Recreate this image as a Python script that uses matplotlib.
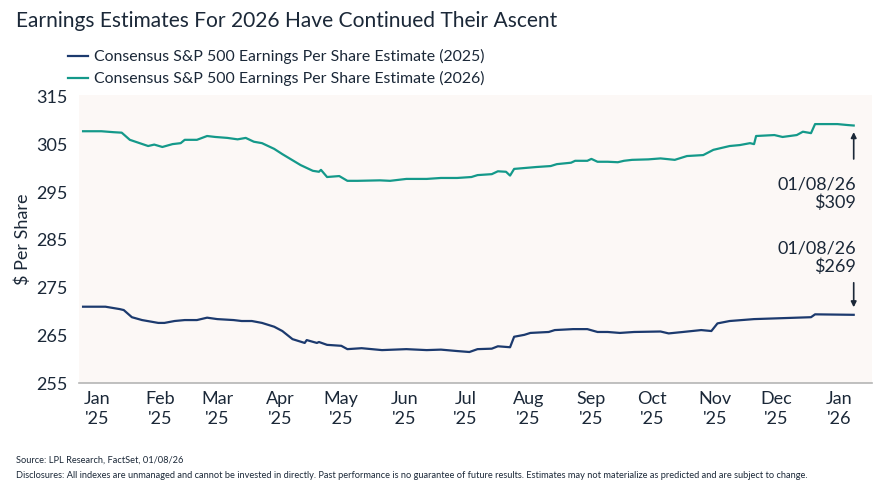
import matplotlib
matplotlib.use('Agg')
import matplotlib.pyplot as plt
import pandas as pd

plt.rcParams['font.family'] = ['Lato', 'DejaVu Sans']

# Consensus EPS estimate for 2026 (teal line)
dates_2026 = ['2024-12-25', '2025-01-03', '2025-01-09', '2025-01-13', '2025-01-17', '2025-01-26',
              '2025-01-29', '2025-02-02', '2025-02-07', '2025-02-11', '2025-02-13', '2025-02-19',
              '2025-02-24', '2025-02-28', '2025-03-06', '2025-03-11', '2025-03-15', '2025-03-19',
              '2025-03-23', '2025-03-29', '2025-04-02', '2025-04-11', '2025-04-17', '2025-04-20',
              '2025-04-21', '2025-04-24', '2025-04-30', '2025-05-04', '2025-05-09', '2025-05-20',
              '2025-05-25', '2025-06-02', '2025-06-12', '2025-06-19', '2025-06-27', '2025-07-04',
              '2025-07-07', '2025-07-14', '2025-07-17', '2025-07-21', '2025-07-23', '2025-07-25',
              '2025-08-05', '2025-08-12', '2025-08-15', '2025-08-22', '2025-08-24', '2025-08-30',
              '2025-09-01', '2025-09-04', '2025-09-09', '2025-09-14', '2025-09-17', '2025-09-21',
              '2025-09-29', '2025-10-05', '2025-10-12', '2025-10-18', '2025-10-26', '2025-10-31',
              '2025-11-08', '2025-11-13', '2025-11-18', '2025-11-20', '2025-11-21', '2025-11-30',
              '2025-12-04', '2025-12-11', '2025-12-14', '2025-12-18', '2025-12-20', '2025-12-31',
              '2026-01-05', '2026-01-08']
eps_2026 = [307.8, 307.8, 307.6, 307.5, 306.0, 304.7,
            305.0, 304.5, 305.1, 305.3, 306.0, 306.0,
            306.8, 306.6, 306.4, 306.1, 306.4, 305.6,
            305.3, 304.1, 303.0, 300.7, 299.5, 299.3,
            299.7, 298.2, 298.4, 297.4, 297.4, 297.5,
            297.4, 297.8, 297.8, 298.0, 298.0, 298.2,
            298.6, 298.8, 299.4, 299.3, 298.5, 299.9,
            300.3, 300.5, 300.9, 301.2, 301.6, 301.6,
            302.0, 301.4, 301.4, 301.3, 301.6, 301.8,
            301.9, 302.1, 301.8, 302.6, 302.8, 303.9,
            304.7, 304.9, 305.3, 305.1, 306.8, 307.0,
            306.6, 307.0, 307.7, 307.4, 309.3, 309.3,
            309.1, 309.0]

# Consensus EPS estimate for 2025 (navy line)
dates_2025 = ['2024-12-25', '2025-01-05', '2025-01-12', '2025-01-14', '2025-01-18', '2025-01-23',
              '2025-01-31', '2025-02-03', '2025-02-08', '2025-02-13', '2025-02-19', '2025-02-24',
              '2025-03-01', '2025-03-09', '2025-03-13', '2025-03-18', '2025-03-23', '2025-03-29',
              '2025-04-02', '2025-04-07', '2025-04-13', '2025-04-14', '2025-04-19', '2025-04-20',
              '2025-04-24', '2025-05-01', '2025-05-04', '2025-05-11', '2025-05-21', '2025-06-02',
              '2025-06-12', '2025-06-19', '2025-06-27', '2025-07-03', '2025-07-07', '2025-07-14',
              '2025-07-17', '2025-07-23', '2025-07-25', '2025-07-30', '2025-08-02', '2025-08-11',
              '2025-08-14', '2025-08-23', '2025-08-30', '2025-09-04', '2025-09-09', '2025-09-15',
              '2025-09-22', '2025-10-05', '2025-10-09', '2025-10-16', '2025-10-25', '2025-10-30',
              '2025-11-02', '2025-11-08', '2025-11-20', '2025-12-04', '2025-12-18', '2025-12-20',
              '2026-01-08']
eps_2025 = [271.0, 271.0, 270.5, 270.3, 268.8, 268.2,
            267.6, 267.6, 268.0, 268.2, 268.2, 268.7,
            268.4, 268.2, 268.0, 268.0, 267.6, 266.8,
            265.9, 264.2, 263.4, 264.0, 263.4, 263.6,
            263.0, 262.8, 262.1, 262.3, 261.9, 262.1,
            261.9, 262.0, 261.7, 261.5, 262.1, 262.2,
            262.7, 262.5, 264.7, 265.1, 265.5, 265.7,
            266.1, 266.3, 266.3, 265.7, 265.7, 265.5,
            265.7, 265.8, 265.4, 265.7, 266.1, 265.9,
            267.5, 268.0, 268.4, 268.6, 268.8, 269.4,
            269.3]

yticks = [255, 265, 275, 285, 295, 305, 315]
month_ticks = pd.date_range('2025-01-01', '2026-01-01', freq='MS')

navy = '#1c3a6e'
teal = '#14998a'
text_col = '#1b2838'

fig = plt.figure(figsize=(8.85, 4.95), dpi=100)
ax = fig.add_axes([79 / 885, 1 - 383 / 495, 793 / 885, 288 / 495])
ax.set_facecolor('#fcf8f6')

ax.plot(pd.to_datetime(dates_2025), eps_2025, color=navy, lw=1.6,
        label='Consensus S&P 500 Earnings Per Share Estimate (2025)')
ax.plot(pd.to_datetime(dates_2026), eps_2026, color=teal, lw=1.6,
        label='Consensus S&P 500 Earnings Per Share Estimate (2026)')

ax.set_xlim(pd.Timestamp('2024-12-23'), pd.Timestamp('2026-01-17'))
ax.set_ylim(255, 315.4)
ax.set_yticks(yticks)
ax.set_yticklabels([str(v) for v in yticks], fontsize=13, color=text_col)
ax.set_xticks(month_ticks)
ax.set_xticklabels([d.strftime('%b') + "\n'" + d.strftime('%y') for d in month_ticks],
                   fontsize=13, color=text_col, linespacing=1.25)
ax.tick_params(length=0, pad=6)
ax.tick_params(axis='y', pad=8)
for s in ['top', 'right', 'left']:
    ax.spines[s].set_visible(False)
ax.spines['bottom'].set_color('#b5b5b5')
ax.spines['bottom'].set_linewidth(1.2)
ax.set_ylabel('$ Per Share', fontsize=13, color=text_col, labelpad=4)

# end-point callouts
last_2026 = pd.Timestamp(dates_2026[-1])
last_2025 = pd.Timestamp(dates_2025[-1])
ax.annotate('', xy=(last_2026, eps_2026[-1] - 0.8), xytext=(last_2026, eps_2026[-1] - 7.6),
            arrowprops=dict(arrowstyle='-|>', color=text_col, lw=1.2, mutation_scale=8))
ax.text(last_2026 + pd.Timedelta(days=1), eps_2026[-1] - 10.6, "01/08/26\n$309", ha='right', va='top',
        fontsize=13, color=text_col, linespacing=1.15)
ax.annotate('', xy=(last_2025, eps_2025[-1] + 1.0), xytext=(last_2025, eps_2025[-1] + 7.3),
            arrowprops=dict(arrowstyle='-|>', color=text_col, lw=1.2, mutation_scale=8))
ax.text(last_2025 + pd.Timedelta(days=1), eps_2025[-1] + 8.4, "01/08/26\n$269", ha='right', va='bottom',
        fontsize=13, color=text_col, linespacing=1.15)

fig.text(16 / 885, 1 - 21 / 495, 'Earnings Estimates For 2026 Have Continued Their Ascent',
         fontsize=15.1, color=text_col, va='center', ha='left')
fig.legend(loc='upper left', bbox_to_anchor=(68 / 885, 1 - 49 / 495), frameon=False,
           fontsize=11.4, handlelength=1.25, handletextpad=0.4, labelspacing=0.45,
           borderaxespad=0, borderpad=0, labelcolor=text_col)

fig.text(16 / 885, 1 - 460 / 495, 'Source: LPL Research, FactSet, 01/08/26',
         fontsize=6.7, color=text_col, va='center')
fig.text(16 / 885, 1 - 475 / 495,
         'Disclosures: All indexes are unmanaged and cannot be invested in directly. Past performance is no '
         'guarantee of future results. Estimates may not materialize as predicted and are subject to change.',
         fontsize=6.7, color=text_col, va='center')

fig.savefig('out.png', dpi=100)
